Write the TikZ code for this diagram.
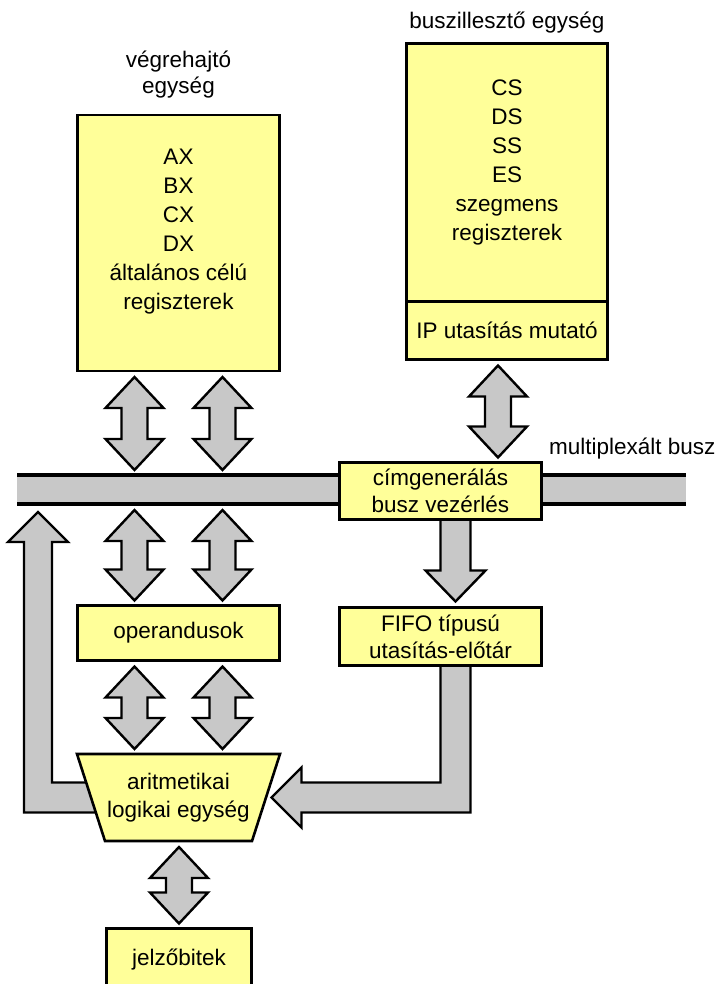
\documentclass[tikz,border=0pt]{standalone}
\usepackage{fontspec}
\setmainfont{Liberation Sans}
\usetikzlibrary{calc}

\definecolor{regyellow}{RGB}{255,255,153}
\definecolor{busgray}{RGB}{200,200,200}

% two-headed block arrow between two points (upper, lower)
\newcommand{\biarrow}[2]{%
  \coordinate (t) at ($(#1)+(0,6)$);
  \coordinate (b) at ($(#2)+(0,-5)$);
  \draw[barrow] (t) -- ($(t)+(29,31)$) -- ($(t)+(13,31)$) -- ($(b)+(13,-31)$)
    -- ($(b)+(29,-31)$) -- (b) -- ($(b)+(-29,-31)$) -- ($(b)+(-13,-31)$)
    -- ($(t)+(-13,31)$) -- ($(t)+(-29,31)$) -- cycle;}

\begin{document}
\begin{tikzpicture}[x=1pt,y=-1pt,
    box/.style={draw,line width=2.6pt,fill=regyellow,outer sep=0pt,inner sep=0pt},
    barrow/.style={draw,line width=2.4pt,fill=busgray,line join=miter},
    lbl/.style={font=\fontsize{22.5}{27}\selectfont,align=center},
    biglbl/.style={font=\fontsize{22.5}{29}\selectfont,align=center}]
    \useasboundingbox (0,0) rectangle (721,984);

    % bus ends
    \coordinate (busl) at (17,475);
    \coordinate (busr) at (686,504);
    \node[lbl,anchor=east](buslbl)at(719,449){multiplexált busz};

    % units
    \node[box,minimum width=202pt,minimum height=256pt](eu)at(178.5,243){};
    \node[biglbl](euregs)at($(eu)+(0,-11)$){AX\\BX\\CX\\DX\\általános célú\\regiszterek};
    \node[lbl,font=\fontsize{22.5}{26}\selectfont](eulbl)at(178.5,75){végrehajtó\\egység};

    \node[box,minimum width=201pt,minimum height=258pt](biu)at(507,172.5){};
    \node[biglbl](biuregs)at($(biu)+(0,-10)$){CS\\DS\\SS\\ES\\szegmens\\regiszterek};
    \node[lbl](biulbl)at(507,23){buszillesztő egység};

    \coordinate (colA) at ($(eu)+(-44,0)$);
    \coordinate (colB) at ($(eu)+(44,0)$);
    \coordinate (colC) at ($(biu)+(-9,0)$);

    % alu outline corners
    \coordinate (alutl) at (77,754);
    \coordinate (alutr) at (280,754);
    \coordinate (alubr) at (252,841);
    \coordinate (alubl) at (105,841);
    \coordinate (alu) at (178.5,797.5);

    \node[box,lbl,minimum width=202pt,minimum height=57pt](cim)at(440.5,491){címgenerálás\\busz vezérlés};
    \node[box,lbl,minimum width=202pt,minimum height=55pt](ops)at(178.5,633){operandusok};
    \node[box,lbl,minimum width=202pt,minimum height=58pt](fifo)at(440.5,636.5){FIFO típusú\\utasítás-előtár};
    \begin{scope}
      \clip (0,0) rectangle (721,984);
      \node[box,lbl,minimum width=145pt,minimum height=63pt](jel)at(179,960){jelzőbitek};
    \end{scope}
    \node[box,lbl,minimum width=201pt,minimum height=58pt,anchor=north](ip)at(biu.south){IP utasítás mutató};

    % connections
    \biarrow{colA |- eu.south}{colA |- busl}
    \biarrow{colB |- eu.south}{colB |- busl}
    \biarrow{colA |- busr}{colA |- ops.north}
    \biarrow{colB |- busr}{colB |- ops.north}
    \biarrow{colA |- ops.south}{colA |- alutl}
    \biarrow{colB |- ops.south}{colB |- alutl}
    \biarrow{jel.north |- alubl}{jel.north}
    \biarrow{colC |- ip.south}{colC |- cim.north}

    \coordinate (q) at ($(fifo.south)+(15,0)$);
    \coordinate (fd) at ($(q |- fifo.north)+(0,-6)$);
    \draw[barrow] ($(q |- cim.south)+(-15,-3)$) -- ($(fd)+(-15,-31)$) -- ($(fd)+(-30,-31)$) -- (fd)
        -- ($(fd)+(30,-31)$) -- ($(fd)+(15,-31)$) -- ($(q |- cim.south)+(15,-3)$) -- cycle;

    \coordinate (tipR) at ($(alu)+(93,0)$);
    \draw[barrow] ($(q)+(-15,-3)$) -- ($(q |- tipR)+(-15,-15)$) -- ($(tipR)+(30,-15)$) -- ($(tipR)+(30,-30)$)
        -- (tipR) -- ($(tipR)+(30,30)$) -- ($(tipR)+(30,15)$) -- ($(q |- tipR)+(15,15)$) -- ($(q)+(15,-3)$) -- cycle;

    \coordinate (fb) at ($(busl |- busr)+(21,8)$);
    \draw[barrow] ($(alu)+(-75,-15)$) -- ($(fb |- alu)+(14,-15)$) -- ($(fb)+(14,30)$) -- ($(fb)+(30,30)$)
        -- (fb) -- ($(fb)+(-30,30)$) -- ($(fb)+(-14,30)$) -- ($(fb |- alu)+(-14,15)$) -- ($(alu)+(-75,15)$) -- cycle;

    % the bus itself: black band with a gray core
    \fill[black] ($(busl)+(0,-2)$) rectangle ($(busr)+(0,2)$);
    \fill[busgray] ($(busl)+(0,2)$) rectangle ($(busr)+(0,-2)$);

    % boxes drawn again over the bus and arrow ends
    \node[box,lbl,minimum width=202pt,minimum height=57pt]at(cim){címgenerálás\\busz vezérlés};
    \node[box,lbl,minimum width=202pt,minimum height=58pt]at(fifo){FIFO típusú\\utasítás-előtár};
    \draw[box] (alutl) -- (alutr) -- (alubr) -- (alubl) -- cycle;
    \node[lbl,font=\fontsize{22.5}{28}\selectfont](alutext)at(alu){aritmetikai\\logikai egység};
\end{tikzpicture}
\end{document}
